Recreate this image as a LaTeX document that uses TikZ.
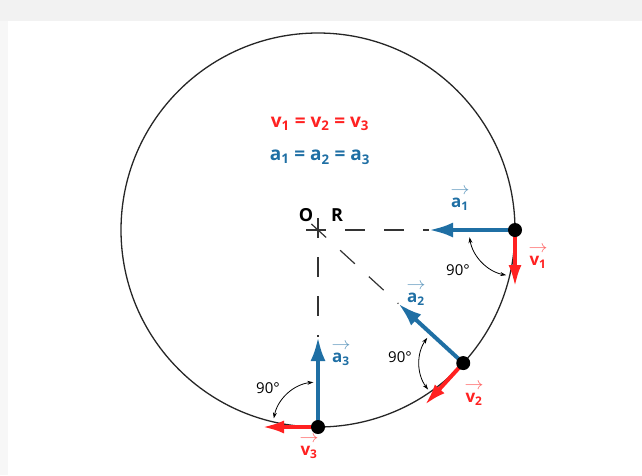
\documentclass[tikz,border=0pt]{standalone}
\usepackage{fontspec}
\setmainfont{Open Sans}
\usetikzlibrary{arrows.meta, calc}
\definecolor{velred}{HTML}{FF2121}
\definecolor{accblue}{HTML}{1F6FA4}
\newcommand{\veclab}[3]{\textcolor{#1!70}{\scalebox{1.1}[1]{$\rightarrow$}}\\\textcolor{#1}{#2\textsubscript{#3}}}

\begin{document}
\begin{tikzpicture}[x=1pt, y=-1pt, line cap=butt]
  % Define styles
  \tikzstyle{guide} = [draw=black!80, line width=1.2pt, dash pattern=on 20pt off 19pt]
  \tikzstyle{accarrow} = [draw=accblue, line width=4pt, -{Latex[length=24pt, width=15pt]}]
  \tikzstyle{velarrow} = [draw=velred, line width=4pt, -{Latex[length=22pt, width=13pt]}]
  \tikzstyle{rightangle} = [draw=black, line width=0.8pt, {Stealth[length=6pt, width=4pt]}-{Stealth[length=6pt, width=4pt]}]
  \tikzstyle{veclabel} = [align=center, inner sep=0pt, font=\bfseries\fontsize{17}{13.5}\selectfont]
  \tikzstyle{anglelabel} = [inner sep=0pt, font=\fontsize{15}{15}\selectfont]

  \useasboundingbox (0,0) rectangle (642,475);
  \fill[black!5] (0,0) rectangle (642,21);
  \fill[black!3] (0,21) rectangle (8,475);

  % Centre and points on the circle
  \coordinate (O) at (318,230);
  \coordinate (P1) at ($(O)+(0:197)$);
  \coordinate (P2) at ($(O)+(42.5:197)$);
  \coordinate (P3) at ($(O)+(90:197)$);

  % Arrow ends
  \coordinate (A1) at ($(P1)+(180:86)$);
  \coordinate (A2) at ($(P2)+(222.5:88)$);
  \coordinate (A3) at ($(P3)+(270:90)$);
  \coordinate (V1) at ($(P1)+(90:57)$);
  \coordinate (V2) at ($(P2)+(132.5:57)$);
  \coordinate (V3) at ($(P3)+(180:56)$);

  % Circle
  \draw[black!85, line width=1.3pt] (O) circle[radius=197];

  % Radii
  \coordinate (H0) at ($(O)+(180:12)$);
  \coordinate (U0) at ($(O)+(270:12)$);
  \coordinate (D0) at ($(O)+(222.5:9)$);
  \draw[guide] (H0) -- (A1);
  \draw[guide] (U0) -- (A3);
  \draw[guide] (D0) -- (A2);
  \node[font=\bfseries\fontsize{18}{18}\selectfont] (Olab) at (306,215) {O};
  \node[font=\bfseries\fontsize{18}{18}\selectfont] (Rlab) at (337,215) {R};

  % Right angles
  \draw[rightangle] ($(P1)+(171:46)$) arc[start angle=171, end angle=101, radius=46];
  \draw[rightangle] ($(P2)+(215:44)$) arc[start angle=215, end angle=143, radius=44];
  \draw[rightangle] ($(P3)+(264:45)$) arc[start angle=264, end angle=191, radius=45];
  \node[anglelabel] (ang1) at (458,270) {90\textdegree};
  \node[anglelabel] (ang2) at (400,357) {90\textdegree};
  \node[anglelabel] (ang3) at (268,388) {90\textdegree};

  % Vectors
  \draw[accarrow] (P1) -- (A1);
  \draw[accarrow] (P2) -- (A2);
  \draw[accarrow] (P3) -- (A3);
  \draw[velarrow] (P1) -- (V1);
  \draw[velarrow] (P2) -- (V2);
  \draw[velarrow] (P3) -- (V3);
  \foreach \p in {P1,P2,P3} \fill[black] (\p) circle[radius=7];

  % Vector labels
  \node[veclabel] (a1) at (460,199) {\veclab{accblue}{a}{1}};
  \node[veclabel] (v1) at (538,257) {\veclab{velred}{v}{1}};
  \node[veclabel] (a2) at (416,294) {\veclab{accblue}{a}{2}};
  \node[veclabel] (v2) at (474,394) {\veclab{velred}{v}{2}};
  \node[veclabel] (a3) at (341,354) {\veclab{accblue}{a}{3}};
  \node[veclabel] (v3) at (309,447) {\veclab{velred}{v}{3}};

  % Equal magnitudes
  \node[font=\bfseries\fontsize{19}{19}\selectfont, text=velred] (veq) at (320,124) {v\textsubscript{1} = v\textsubscript{2} = v\textsubscript{3}};
  \node[font=\bfseries\fontsize{19}{19}\selectfont, text=accblue] (aeq) at (320,157) {a\textsubscript{1} = a\textsubscript{2} = a\textsubscript{3}};

\end{tikzpicture}
\end{document}
